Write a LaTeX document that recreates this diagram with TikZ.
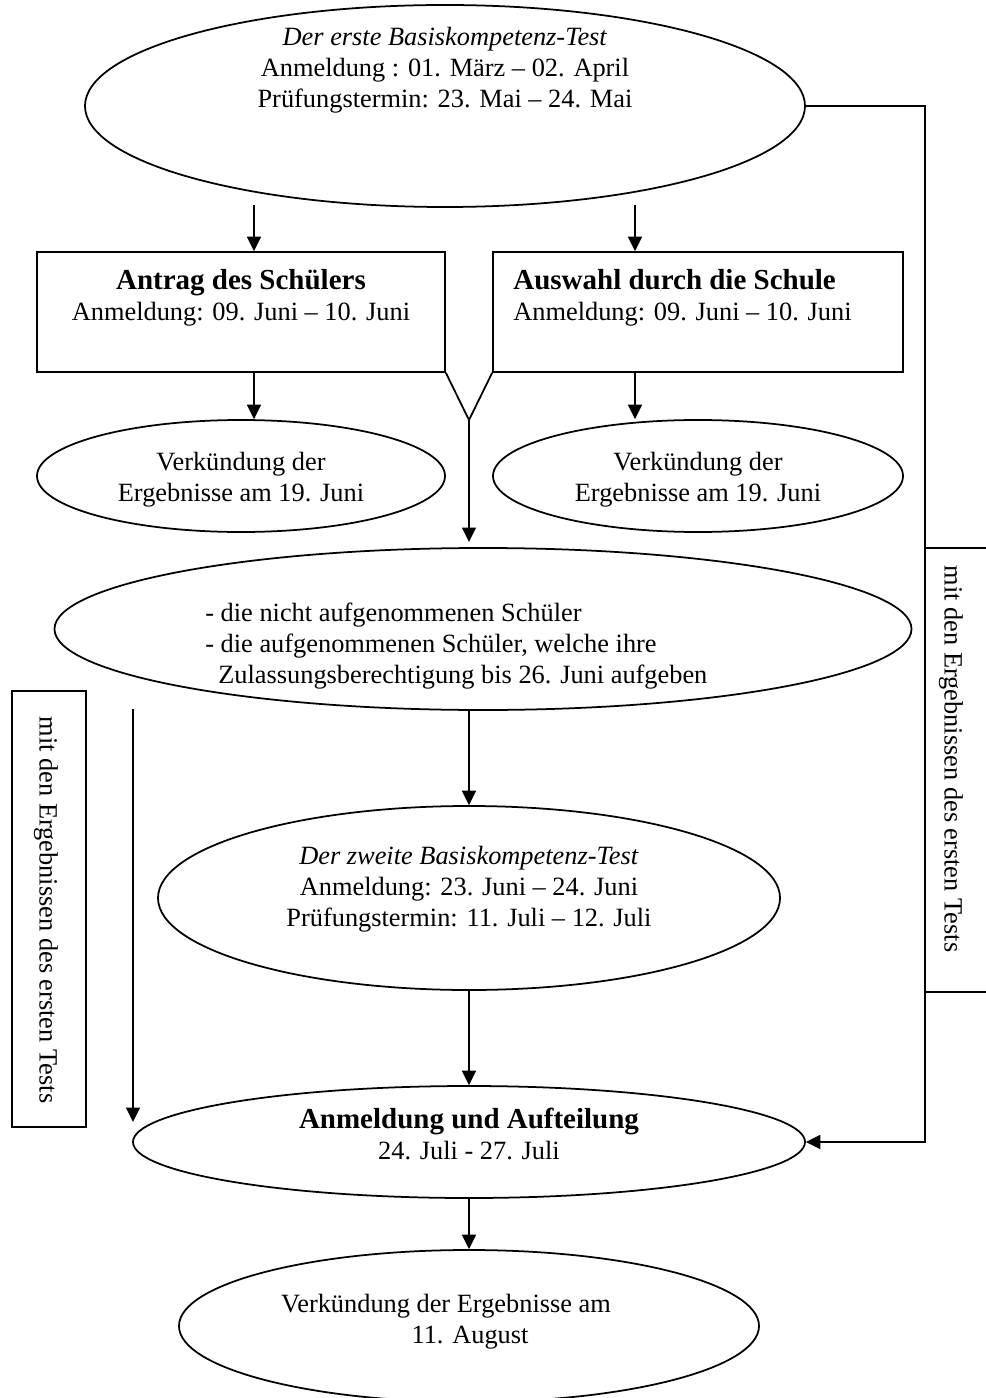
\documentclass[tikz,border=0pt]{standalone}
\usepackage{fontspec}
\setmainfont{Liberation Serif}
\usetikzlibrary{arrows.meta,shapes.geometric,positioning}
\newcommand\ttl[1]{{\fontsize{16.5}{17.6}\selectfont\bfseries #1}}

\begin{document}
\begin{tikzpicture}[
 x=0.2mm,y=-0.2mm,
 oval/.style={draw,ellipse,line width=1pt,inner sep=0pt},
 box/.style={draw,rectangle,line width=1pt,inner sep=0pt},
 txt/.style={align=center,inner sep=0pt,font=\fontsize{15}{17.6}\selectfont},
 vtxt/.style={rotate=-90,inner sep=0pt,font=\fontsize{15}{17.6}\selectfont},
 arrow/.style={-{Triangle[length=2.9mm,width=2.8mm]},line width=1pt},
 line/.style={line width=1pt}
]
\useasboundingbox (0,0) rectangle (985,1398);

% first test
\node[oval,minimum width=144mm,minimum height=40.4mm] (e1) at (445,106) {};
\node[txt] (t1) at (445,70) {\textit{Der erste Basiskompetenz-Test}\\Anmeldung : 01. März – 02. April\\Prüfungstermin: 23. Mai – 24. Mai};

% the two ways
\node[box,minimum width=81.6mm,minimum height=24mm] (bA) at (241,312) {};
\node[txt] (tA) at (241,298) {\ttl{Antrag des Schülers}\\Anmeldung: 09. Juni – 10. Juni};
\node[box,minimum width=82mm,minimum height=24mm] (bB) at (698,312) {};
\node[txt,align=left,anchor=west] (tB) at (513,298) {\ttl{Auswahl durch die Schule}\\Anmeldung: 09. Juni – 10. Juni};

\node[oval,minimum width=81.6mm,minimum height=22.4mm] (eL) at (241,476) {};
\node[txt] (tL) at (241,480) {Verkündung der\\Ergebnisse am 19. Juni};
\node[oval,minimum width=82mm,minimum height=22.4mm] (eR) at (698,476) {};
\node[txt] (tR) at (698,480) {Verkündung der\\Ergebnisse am 19. Juni};

% the rest
\node[oval,minimum width=171.4mm,minimum height=32.4mm] (eM) at (483,629) {};
\node[txt,align=left,anchor=west] (tM) at (205,646) {- die nicht aufgenommenen Schüler\\- die aufgenommenen Schüler, welche ihre\\\hspace*{2.6mm}Zulassungsberechtigung bis 26. Juni aufgeben};

% second test
\node[oval,minimum width=124.4mm,minimum height=36.8mm] (e2) at (469,898) {};
\node[txt] (t2) at (469,889) {\textit{Der zweite Basiskompetenz-Test}\\Anmeldung: 23. Juni – 24. Juni\\Prüfungstermin: 11. Juli – 12. Juli};

\node[oval,minimum width=134.4mm,minimum height=22.4mm] (e3) at (469,1142) {};
\node[txt] (t3) at (469,1134) {\ttl{Anmeldung und Aufteilung}\\24. Juli - 27. Juli};

\node[oval,minimum width=116mm,minimum height=30.4mm] (e4) at (469,1326) {};
\node[txt] (t4) at (446,1322) {Verkündung der Ergebnisse am\\\hspace*{9.6mm}11. August};

% side notes
\node[box,rotate=-90,minimum width=87.2mm,minimum height=14.8mm] (lb) at (49,909) {};
\node[vtxt] (lt) at (46,910) {mit den Ergebnissen des ersten Tests};
\node[box,rotate=-90,minimum width=88.8mm,minimum height=15mm] (rb) at (962.5,770) {};
\node[vtxt] (rt) at (951,759) {mit den Ergebnissen des ersten Tests};

\coordinate (a1) at (254,205);
\coordinate (a2) at (635,205);
\coordinate (v) at (469,420);
\coordinate (vend) at (469,542);
\coordinate (l1) at (133,709);
\coordinate (l2) at (133,1122);
\coordinate (rc) at (925,106);

\draw[arrow] (a1) -- (a1 |- bA.north);
\draw[arrow] (a2) -- (a2 |- bB.north);
\draw[arrow] (a1 |- bA.south) -- (a1 |- eL.north);
\draw[arrow] (a2 |- bB.south) -- (a2 |- eR.north);
\draw[line] (bA.south east) -- (v) -- (bB.south west);
\draw[arrow] (v) -- (vend);
\draw[arrow] (eM.south -| e2) -- (e2.north);
\draw[arrow] (l1) -- (l2);
\draw[arrow] (e2.south) -- (e3.north);
\draw[arrow] (e3.south) -- (e4.north);
\draw[arrow] (e1.east) -- (rc) |- (e3.east);
\end{tikzpicture}
\end{document}
